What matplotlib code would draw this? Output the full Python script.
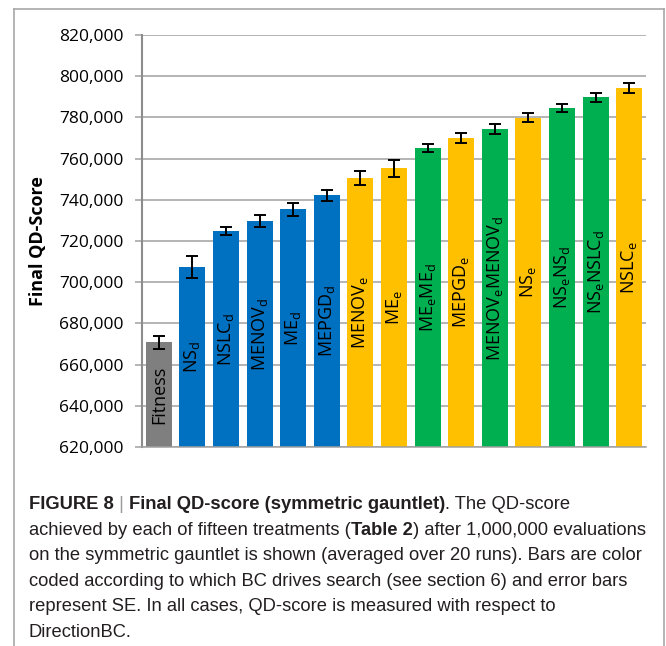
import matplotlib
matplotlib.use("Agg")
import matplotlib.pyplot as plt
from matplotlib.lines import Line2D


# ==================================================
# 1. 資料
# ==================================================

treatments = [
    "Fitness",
    r"NS$_\mathrm{d}$",
    r"NSLC$_\mathrm{d}$",
    r"MENOV$_\mathrm{d}$",
    r"ME$_\mathrm{d}$",
    r"MEPGD$_\mathrm{d}$",
    r"MENOV$_\mathrm{e}$",
    r"ME$_\mathrm{e}$",
    r"ME$_\mathrm{e}$ME$_\mathrm{d}$",
    r"MEPGD$_\mathrm{e}$",
    r"MENOV$_\mathrm{e}$MENOV$_\mathrm{d}$",
    r"NS$_\mathrm{e}$",
    r"NS$_\mathrm{e}$NS$_\mathrm{d}$",
    r"NS$_\mathrm{e}$NSLC$_\mathrm{d}$",
    r"NSLC$_\mathrm{e}$",
]

qd_score = [670800, 707400, 724800, 729700, 735400, 742200, 750600, 755300,
            765000, 770000, 774200, 779900, 784400, 789700, 794100]

qd_se = [3200, 5400, 2000, 2900, 3100, 2600, 3500, 4000,
         1900, 2600, 2400, 2100, 1900, 2100, 2400]

# 哪一種 BC 驅動搜尋
bc_group = ["fitness", "d", "d", "d", "d", "d", "e", "e",
            "de", "e", "de", "e", "de", "de", "e"]

y_ticks = list(range(620000, 820001, 20000))

group_colors = {
    "fitness": "#7f7f7f",
    "d": "#0070c0",
    "e": "#ffc000",
    "de": "#00b050",
}


# ==================================================
# 2. 字型
# ==================================================

plt.rcParams["font.family"] = ["Open Sans", "DejaVu Sans"]
plt.rcParams["mathtext.fontset"] = "custom"
plt.rcParams["mathtext.rm"] = "Open Sans"
plt.rcParams["mathtext.it"] = "Open Sans:italic"
plt.rcParams["mathtext.bf"] = "Open Sans:bold"

caption_family = ["Liberation Sans", "DejaVu Sans"]


# ==================================================
# 3. 畫長條圖
# ==================================================

W, H = 666, 646
fig = plt.figure(figsize=(W / 100, H / 100), dpi=100)
ax = fig.add_axes([142 / W, 1 - 447 / H, 504 / W, 412 / H])

x = list(range(len(treatments)))
colors = [group_colors[g] for g in bc_group]

ax.bar(x, qd_score, width=0.77, color=colors, zorder=2)
ax.errorbar(x, qd_score, yerr=qd_se, fmt="none", ecolor="black",
            elinewidth=1.4, capsize=4, capthick=1.4, zorder=3)

# 長條內的文字（置中、旋轉 90 度）
for i in x:
    ax.text(i, (620000 + qd_score[i]) / 2, treatments[i], rotation=90,
            ha="center", va="center", fontsize=13, color="black", zorder=4)

ax.set_xlim(-0.5, len(treatments) - 0.5)
ax.set_ylim(620000, 820000)
ax.set_yticks(y_ticks)
ax.set_yticklabels([f"{v:,}" for v in y_ticks], fontsize=12.5)
ax.set_xticks([])

ax.grid(axis="y", color="#a0a0a0", linewidth=1.1, zorder=0)
ax.tick_params(axis="y", direction="out", length=5, width=1.1,
               color="#a0a0a0", pad=8)

for side in ["top", "right"]:
    ax.spines[side].set_visible(False)
ax.spines["left"].set_color("#8c8c8c")
ax.spines["left"].set_linewidth(1.5)
ax.spines["bottom"].set_color("#a0a0a0")
ax.spines["bottom"].set_linewidth(1.1)

fig.text(38 / W, 1 - 241 / H, "Final QD-Score", rotation=90,
         ha="center", va="center", fontsize=13, fontweight="bold")


# ==================================================
# 4. 外框
# ==================================================

border_color = "#a8a8a8"
fig.add_artist(Line2D([13.5 / W, 13.5 / W], [0, 1 - 8.5 / H],
                      transform=fig.transFigure, color=border_color, lw=1.2))
fig.add_artist(Line2D([13.5 / W, 663.5 / W], [1 - 8.5 / H, 1 - 8.5 / H],
                      transform=fig.transFigure, color=border_color, lw=1.2))
fig.add_artist(Line2D([663.5 / W, 663.5 / W], [0, 1 - 8.5 / H],
                      transform=fig.transFigure, color=border_color, lw=1.2))


# ==================================================
# 5. 圖說
# ==================================================

dark = "#231f20"
caption_lines = [
    [("FIGURE 8", "bold", dark), (" | ", "normal", "#9a9a9a"),
     ("Final QD-score (symmetric gauntlet)", "bold", dark),
     (". The QD-score", "normal", dark)],
    [("achieved by each of fifteen treatments (", "normal", dark),
     ("Table 2", "bold", dark),
     (") after 1,000,000 evaluations", "normal", dark)],
    [("on the symmetric gauntlet is shown (averaged over 20 runs). Bars are color",
      "normal", dark)],
    [("coded according to which BC drives search (see section 6) and error bars",
      "normal", dark)],
    [("represent SE. In all cases, QD-score is measured with respect to",
      "normal", dark)],
    [("DirectionBC.", "normal", dark)],
]

renderer = fig.canvas.get_renderer()


def draw_line(segments, x_px, baseline, size):
    start = x_px
    for text, weight, color in segments:
        t = fig.text(x_px / W, 1 - baseline / H, text, fontsize=size,
                     family=caption_family, fontweight=weight, color=color,
                     ha="left", va="baseline")
        x_px += t.get_window_extent(renderer).width
    return t, x_px - start


# 第二行在原圖從 29 px 到 648 px，依此決定字級
probe_size = 10
probe = []
width = 0
for text, weight, color in caption_lines[1]:
    t = fig.text(0, 0, text, fontsize=probe_size, family=caption_family,
                 fontweight=weight)
    width += t.get_window_extent(renderer).width
    probe.append(t)
for t in probe:
    t.remove()
caption_size = probe_size * 619 / width

baseline = 509
for line in caption_lines:
    draw_line(line, 29, baseline, caption_size)
    baseline += 25.6

fig.savefig("out.png", dpi=100)
